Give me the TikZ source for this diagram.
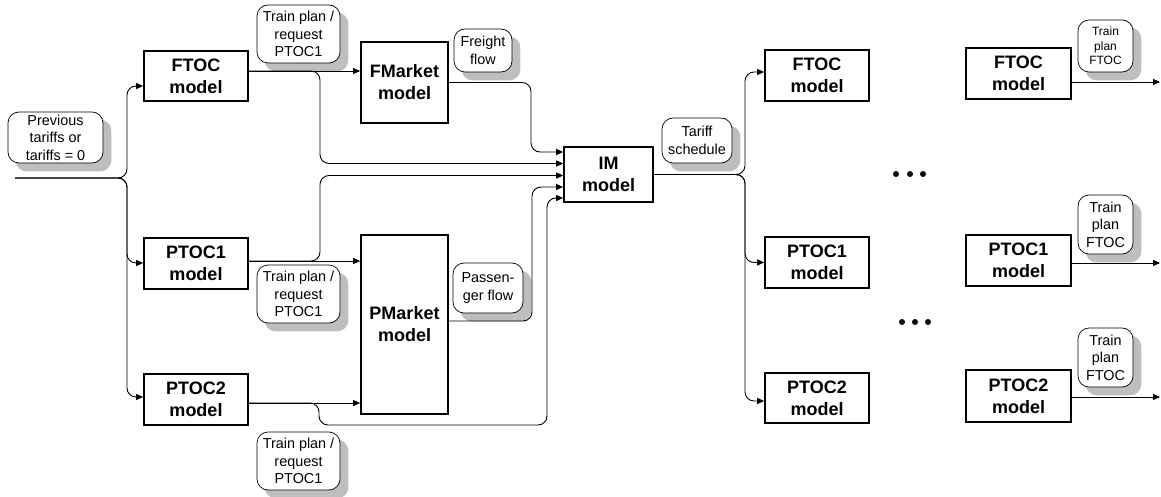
\documentclass[tikz,border=0pt]{standalone}
\usepackage{fontspec}
\setmainfont{Liberation Sans}
\usetikzlibrary{arrows.meta,calc,backgrounds}
\definecolor{shadowgray}{HTML}{BEBEBE}
\begin{document}
\begin{tikzpicture}[x=1pt,y=-1pt,
  box/.style={draw,line width=1.7pt,fill=white,align=center,inner sep=0pt,font=\bfseries\fontsize{18}{22}\selectfont},
  lbl/.style={draw,line width=0.7pt,fill=white,rounded corners=11pt,align=center,inner sep=0pt,
    font=\fontsize{14.4}{17.5}\selectfont},
  shade/.style={fill=shadowgray,rounded corners=11pt},
  conn/.style={line width=0.9pt,rounded corners=9pt},
  arr/.style={conn,-{Triangle[length=7pt,width=6pt]}},
]
\useasboundingbox (0,0) rectangle (1161,497);

% labels
\node[lbl,minimum width=95pt,minimum height=51pt] (prev) at (55.5,137.5) {Previous\\tariffs or\\tariffs = 0};
\node[lbl,minimum width=83pt,minimum height=58pt] (tp1) at (298.5,34) {Train plan /\\request\\PTOC1};
\node[lbl,minimum width=83pt,minimum height=58pt] (tp2) at (298.5,294) {Train plan /\\request\\PTOC1};
\node[lbl,minimum width=83pt,minimum height=58pt] (tp3) at (298.5,461) {Train plan /\\request\\PTOC1};
\node[lbl,minimum width=58pt,minimum height=43pt] (freight) at (483,50.5) {Freight\\flow};
\node[lbl,minimum width=70pt,minimum height=45pt] (tariff) at (697,140.5) {Tariff\\schedule};
\node[lbl,minimum width=70pt,minimum height=50pt] (passen) at (488,288) {Passen-\\ger flow};
\node[lbl,minimum width=55pt,minimum height=52pt,font=\fontsize{12}{14.5}\selectfont] (tpF1) at (1105.5,46) {Train\\plan\\FTOC};
\node[lbl,minimum width=55pt,minimum height=59pt] (tpF2) at (1105.5,224.5) {Train\\plan\\FTOC};
\node[lbl,minimum width=55pt,minimum height=59pt] (tpF3) at (1105.5,357.5) {Train\\plan\\FTOC};

% label shadows
\begin{scope}[on background layer]
\foreach \n in {prev,tp1,tp2,tp3,freight,tariff,passen,tpF1,tpF2,tpF3}
  \fill[shade] ([shift={(8pt,-8pt)}]\n.south west) rectangle ([shift={(8pt,-8pt)}]\n.north east);
\end{scope}

% model boxes
\node[box,minimum width=104pt,minimum height=50pt] (ftocL) at (196,76) {FTOC\\model};
\node[box,minimum width=104pt,minimum height=51pt] (ptoc1L) at (196,263.5) {PTOC1\\model};
\node[box,minimum width=104pt,minimum height=51pt] (ptoc2L) at (196,399.5) {PTOC2\\model};
\node[box,minimum width=87pt,minimum height=81pt] (fmarket) at (404.5,82.5) {FMarket\\model};
\node[box,minimum width=87pt,minimum height=179pt] (pmarket) at (404.5,324.5) {PMarket\\model};
\node[box,minimum width=89pt,minimum height=55pt] (im) at (608.5,174.5) {IM\\model};
\node[box,minimum width=104pt,minimum height=51pt] (ftocM) at (817,75.5) {FTOC\\model};
\node[box,minimum width=104pt,minimum height=51pt] (ptoc1M) at (817,262.5) {PTOC1\\model};
\node[box,minimum width=104pt,minimum height=50pt] (ptoc2M) at (817,398) {PTOC2\\model};
\node[box,minimum width=105pt,minimum height=51pt] (ftocR) at (1018.5,73.5) {FTOC\\model};
\node[box,minimum width=105pt,minimum height=51pt] (ptoc1R) at (1018.5,260.5) {PTOC1\\model};
\node[box,minimum width=105pt,minimum height=52pt] (ptoc2R) at (1018.5,396) {PTOC2\\model};

% ellipsis dots
\foreach \x in {896,910,923} \fill (\x,174) circle (3pt);
\foreach \x in {902,915,928} \fill (\x,322) circle (3pt);

% helper coordinates
\coordinate (src) at (15,178);
\coordinate (jin) at (127,178);
\coordinate (xb) at (320,0);
\coordinate (xs) at (319,0);
\coordinate (ybot) at (0,425);
\coordinate (xf) at (531,0);
\coordinate (xp) at (532,0);
\coordinate (xq) at (547,0);
\coordinate (jo) at (745,0);
\coordinate (xend) at (1160,0);
\coordinate (i1) at ([yshift=22.5pt]im.west);
\coordinate (i2) at ([yshift=11pt]im.west);
\coordinate (i3) at ([yshift=-1pt]im.west);
\coordinate (i4) at ([yshift=-12.5pt]im.west);
\coordinate (i5) at ([yshift=-23.5pt]im.west);
\coordinate (fo) at ([yshift=5pt]ftocL.east);
\coordinate (p1o) at ([yshift=2.5pt]ptoc1L.east);
\coordinate (p2o) at ([yshift=-3.5pt]ptoc2L.east);
\coordinate (pmo) at ([yshift=3.5pt]pmarket.east);
\coordinate (m1) at ([yshift=3.5pt]ftocM.west);
\coordinate (m2) at (ptoc1M.west);
\coordinate (m3) at ([yshift=-3pt]ptoc2M.west);

% inputs
\draw[arr] (src) -- (jin) |- ([yshift=-10pt]ftocL.west);
\draw[arr] (src) -- (jin) |- ([yshift=0.5pt]ptoc1L.west);
\draw[arr] (src) -- (jin) |- ([yshift=2.5pt]ptoc2L.west);

% operators to markets
\draw[arr] (fo) -- (fo -| fmarket.west);
\draw[arr] (p1o) -- (p1o -| pmarket.west);
\draw[arr] (p2o) -- (p2o -| pmarket.west);

% into IM
\draw[arr] (fmarket.east) -| (xf |- i1) -- (i1);
\draw[arr] (fo) -| (xb |- i2) -- (i2);
\draw[arr] (p1o) -| (xb |- i3) -- (i3);
\draw[arr] (pmo) -| (xp |- i4) -- (i4);
\draw[arr] (p2o) -| (xs |- ybot) -| (xq |- i5) -- (i5);

% IM output
\draw[arr] (im.east) -| (jo |- m1) -- (m1);
\draw[arr] (im.east) -| (jo |- m2) -- (m2);
\draw[arr] (im.east) -| (jo |- m3) -- (m3);

% right outputs
\coordinate (e1) at ([yshift=-8.5pt]ftocR.east);
\coordinate (e2) at ([yshift=-2.5pt]ptoc1R.east);
\coordinate (e3) at ([yshift=-1pt]ptoc2R.east);
\draw[arr] (e1) -- (e1 -| xend);
\draw[arr] (e2) -- (e2 -| xend);
\draw[arr] (e3) -- (e3 -| xend);
\end{tikzpicture}
\end{document}
